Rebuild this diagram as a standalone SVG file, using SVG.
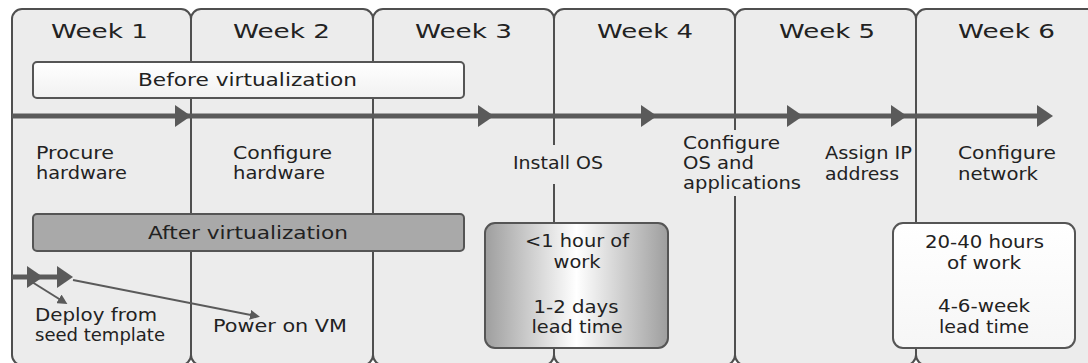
<svg xmlns="http://www.w3.org/2000/svg" width="1088" height="363" viewBox="0 0 1088 363">
  <style>
    .col { fill: #ececec; stroke: #4f4f4f; stroke-width: 2; }
    .wk { font-family: "DejaVu Sans", "Open Sans", sans-serif; font-size: 20px; fill: #222; text-anchor: middle; }
    .lb { font-family: "DejaVu Sans", "Open Sans", sans-serif; font-size: 17px; fill: #222; }
    .mid { text-anchor: middle; }
    .mask { fill: #ececec; stroke: none; }
    .bar { stroke: #5a5a5a; stroke-width: 5; fill: none; marker-end: url(#bigHead); }
    .thin { stroke: #5a5a5a; stroke-width: 2; fill: none; marker-end: url(#smallHead); }
    .box { stroke: #555; stroke-width: 2; }
  </style>
  <defs>
    <marker id="bigHead" viewBox="0 0 16 22" refX="6" refY="11" markerWidth="16" markerHeight="22" markerUnits="userSpaceOnUse" orient="auto">
      <path d="M0,0 L16,11 L0,22 z" fill="#5a5a5a"/>
    </marker>
    <marker id="smallHead" viewBox="0 0 10 10" refX="6" refY="5" markerWidth="10" markerHeight="10" markerUnits="userSpaceOnUse" orient="auto">
      <path d="M0,0 L10,5 L0,10 z" fill="#5a5a5a"/>
    </marker>
    <linearGradient id="beforeFill" x1="0" y1="0" x2="0" y2="1">
      <stop offset="0" stop-color="#ffffff"/>
      <stop offset="1" stop-color="#f1f1f1"/>
    </linearGradient>
    <linearGradient id="metalFill" x1="0" y1="0" x2="1" y2="0">
      <stop offset="0" stop-color="#9e9e9e"/>
      <stop offset="0.5" stop-color="#ffffff"/>
      <stop offset="1" stop-color="#9e9e9e"/>
    </linearGradient>
    <linearGradient id="whiteFill" x1="0" y1="0" x2="0" y2="1">
      <stop offset="0" stop-color="#ffffff"/>
      <stop offset="1" stop-color="#f6f6f6"/>
    </linearGradient>
  </defs>

  <!-- week columns -->
  <g id="week1"><rect class="col" x="12" y="9" width="179" height="356" rx="10"/><text class="wk" x="99.5" y="38" textLength="97" lengthAdjust="spacingAndGlyphs">Week 1</text></g>
  <g id="week2"><rect class="col" x="191" y="9" width="182" height="356" rx="10"/><text class="wk" x="281.5" y="38" textLength="97" lengthAdjust="spacingAndGlyphs">Week 2</text></g>
  <g id="week3"><rect class="col" x="373" y="9" width="181" height="356" rx="10"/><text class="wk" x="463.5" y="38" textLength="97" lengthAdjust="spacingAndGlyphs">Week 3</text></g>
  <g id="week4"><rect class="col" x="554" y="9" width="181" height="356" rx="10"/><text class="wk" x="645" y="38" textLength="96" lengthAdjust="spacingAndGlyphs">Week 4</text></g>
  <g id="week5"><rect class="col" x="735" y="9" width="181" height="356" rx="10"/><text class="wk" x="827" y="38" textLength="96" lengthAdjust="spacingAndGlyphs">Week 5</text></g>
  <g id="week6"><rect class="col" x="916" y="9" width="184" height="356" rx="10"/><text class="wk" x="1006.5" y="38" textLength="97" lengthAdjust="spacingAndGlyphs">Week 6</text></g>

  <!-- phase banners -->
  <g id="before-virtualization">
    <rect class="box" x="33" y="62" width="431" height="36" rx="4" fill="url(#beforeFill)" stroke="#666"/>
    <text class="lb" x="138" y="86" textLength="219" lengthAdjust="spacingAndGlyphs">Before virtualization</text>
  </g>
  <g id="after-virtualization">
    <rect class="box" x="33" y="214" width="431" height="37" rx="4" fill="#a9a9a9"/>
    <text class="lb" x="148" y="239" textLength="200" lengthAdjust="spacingAndGlyphs">After virtualization</text>
  </g>

  <!-- connectors -->
  <g id="connectors">
    <path class="bar" d="M12,116 H181"/>
    <path class="bar" d="M181,116 H484"/>
    <path class="bar" d="M484,116 H647"/>
    <path class="bar" d="M647,116 H793"/>
    <path class="bar" d="M793,116 H897"/>
    <path class="bar" d="M897,116 H1043"/>
    <path class="bar" d="M12,277 H33"/>
    <path class="bar" d="M33,277 H63"/>
    <path class="thin" d="M32,282 L64,302"/>
    <path class="thin" d="M73,280 L256,316"/>
  </g>

  <!-- step labels -->
  <g id="procure-hardware">
    <text class="lb" x="36" y="159" textLength="78" lengthAdjust="spacingAndGlyphs">Procure</text>
    <text class="lb" x="36" y="179" textLength="91" lengthAdjust="spacingAndGlyphs">hardware</text>
  </g>
  <g id="configure-hardware">
    <text class="lb" x="233" y="159" textLength="99" lengthAdjust="spacingAndGlyphs">Configure</text>
    <text class="lb" x="233" y="179" textLength="92" lengthAdjust="spacingAndGlyphs">hardware</text>
  </g>
  <g id="install-os">
    <rect class="mask" x="508" y="145" width="100" height="39"/>
    <text class="lb" x="513" y="169" textLength="90" lengthAdjust="spacingAndGlyphs">Install OS</text>
  </g>
  <g id="configure-os">
    <rect class="mask" x="679" y="130" width="126" height="66"/>
    <text class="lb" x="683" y="149" textLength="97" lengthAdjust="spacingAndGlyphs">Configure</text>
    <text class="lb" x="683" y="169" textLength="71" lengthAdjust="spacingAndGlyphs">OS and</text>
    <text class="lb" x="683" y="189" textLength="118" lengthAdjust="spacingAndGlyphs">applications</text>
  </g>
  <g id="assign-ip">
    <text class="lb" x="825" y="159" textLength="87" lengthAdjust="spacingAndGlyphs">Assign IP</text>
    <text class="lb" x="825" y="180" textLength="74" lengthAdjust="spacingAndGlyphs">address</text>
  </g>
  <g id="configure-network">
    <text class="lb" x="958" y="159" textLength="98" lengthAdjust="spacingAndGlyphs">Configure</text>
    <text class="lb" x="958" y="180" textLength="80" lengthAdjust="spacingAndGlyphs">network</text>
  </g>
  <g id="deploy-template">
    <text class="lb" x="35" y="321" textLength="122" lengthAdjust="spacingAndGlyphs">Deploy from</text>
    <text class="lb" x="35" y="341" textLength="130" lengthAdjust="spacingAndGlyphs">seed template</text>
  </g>
  <g id="power-on">
    <text class="lb" x="213" y="332" textLength="134" lengthAdjust="spacingAndGlyphs">Power on VM</text>
  </g>

  <!-- effort boxes -->
  <g id="effort-after">
    <rect class="box" x="485" y="223" width="183" height="125" rx="10" fill="url(#metalFill)"/>
    <text class="lb mid" x="577" y="247" textLength="104" lengthAdjust="spacingAndGlyphs">&lt;1 hour of</text>
    <text class="lb mid" x="577" y="268" textLength="47" lengthAdjust="spacingAndGlyphs">work</text>
    <text class="lb mid" x="576" y="313" textLength="85" lengthAdjust="spacingAndGlyphs">1-2 days</text>
    <text class="lb mid" x="577" y="333" textLength="91" lengthAdjust="spacingAndGlyphs">lead time</text>
  </g>
  <g id="effort-before">
    <rect class="box" x="893" y="223" width="182" height="125" rx="10" fill="url(#whiteFill)"/>
    <text class="lb mid" x="984.5" y="248" textLength="119" lengthAdjust="spacingAndGlyphs">20-40 hours</text>
    <text class="lb mid" x="984" y="269" textLength="74" lengthAdjust="spacingAndGlyphs">of work</text>
    <text class="lb mid" x="984" y="312" textLength="92" lengthAdjust="spacingAndGlyphs">4-6-week</text>
    <text class="lb mid" x="984" y="333" textLength="90" lengthAdjust="spacingAndGlyphs">lead time</text>
  </g>
</svg>
